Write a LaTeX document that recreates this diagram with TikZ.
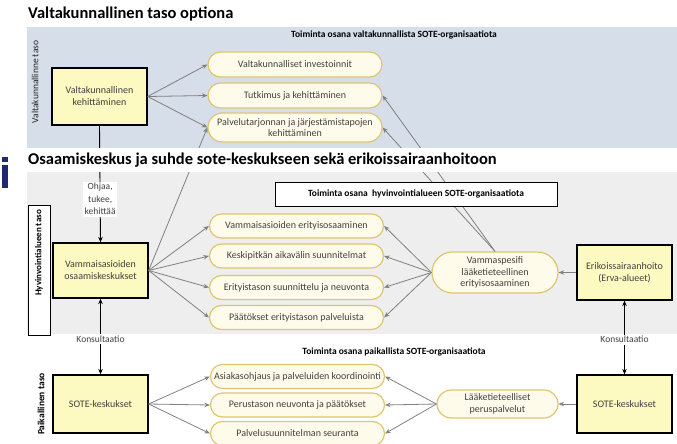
\documentclass[tikz,border=0pt]{standalone}
\usepackage{fontspec}
\setmainfont{Carlito}
\usetikzlibrary{shapes.misc,arrows.meta}

\definecolor{bandblue}{RGB}{214,222,234}
\definecolor{bandgrey}{RGB}{238,238,238}
\definecolor{boxyellow}{RGB}{252,250,192}
\definecolor{pillfill}{RGB}{255,251,234}
\definecolor{pillline}{RGB}{222,198,112}
\definecolor{arrowgrey}{RGB}{128,128,128}
\definecolor{textgrey}{RGB}{64,64,64}
\definecolor{marknavy}{RGB}{31,42,110}

\begin{document}
\begin{tikzpicture}[x=1pt, y=-1pt,
	>={Stealth[length=5.5pt,width=4.5pt]},
	ybox/.style={rectangle, draw=black, line width=1.3pt, fill=boxyellow,
		minimum width=95pt, minimum height=55pt, align=center,
		text=textgrey, font=\fontsize{10}{12}\selectfont},
	pill/.style={rounded rectangle, draw=pillline, line width=1.2pt, fill=pillfill,
		minimum width=178pt, minimum height=24pt, align=center, inner sep=2pt,
		text=textgrey, font=\fontsize{10}{11.5}\selectfont},
	garrow/.style={->, draw=arrowgrey, line width=0.8pt},
	karrow/.style={draw=black, line width=0.9pt},
	klabel/.style={fill=white, inner sep=1.5pt, align=center,
		text=textgrey, font=\fontsize{9.5}{12.5}\selectfont},
	head/.style={font=\bfseries\fontsize{9.5}{11}\selectfont},
	title/.style={anchor=west, inner xsep=0pt, font=\bfseries\fontsize{16.5}{18}\selectfont},
	side/.style={rotate=90, font=\fontsize{9.5}{11}\selectfont}]

	\useasboundingbox (0,0) rectangle (677,444);

	% bands
	\fill[bandblue] (27,27) rectangle (677,148);
	\fill[bandgrey] (27,172) rectangle (677,334);

	\node[title] (t1) at (28,14) {Valtakunnallinen taso optiona};

	% national level
	\node[side, text=black!85] (sv) at (35,82) {Valtakunnallinne taso};
	\node[head] (hv) at (394,35) {Toiminta osana valtakunnallista SOTE-organisaatiota};
	\node[ybox, minimum height=57pt] (vk) at (99.5,96.5) {Valtakunnallinen\\kehittäminen};
	\node[pill, minimum height=25pt] (inv) at (295,64.5) {Valtakunnalliset investoinnit};
	\node[pill, minimum height=25pt] (tut) at (295,95.5) {Tutkimus ja kehittäminen};
	\node[pill, minimum height=29pt] (pal) at (295,127.5) {Palvelutarjonnan ja järjestämistapojen\\kehittäminen};

	% regional level
	\node[draw, fill=white, line width=0.8pt,
		minimum width=22pt, minimum height=130pt] (hbox) at (39,270) {};
	\node[side, font=\bfseries\fontsize{9}{11}\selectfont] (sh) at (39,253) {Hyvinvointialueen taso};
	\node[ybox] (ok) at (100.5,270.5) {Vammaisasioiden\\osaamiskeskukset};
	\node[ybox] (esh) at (624.5,272.5) {Erikoissairaanhoito\\(Erva-alueet)};
	\node[pill] (ve) at (296.5,226) {Vammaisasioiden erityisosaaminen};
	\node[pill] (ks) at (296.5,256) {Keskipitkän aikavälin suunnitelmat};
	\node[pill] (en) at (296.5,287.5) {Erityistason suunnittelu ja neuvonta};
	\node[pill] (pe) at (296.5,317.5) {Päätökset erityistason palveluista};
	\node[pill, minimum width=130pt, minimum height=41pt] (vsp) at (495,272.5)
		{Vammaspesifi\\lääketieteellinen\\erityisosaaminen};

	% local level
	\node[side, font=\bfseries\fontsize{9.5}{11}\selectfont] (spk) at (41,404) {Paikallinen taso};
	\node[head] (hp) at (394,352) {Toiminta osana paikallista SOTE-organisaatiota};
	\node[ybox, minimum height=58pt] (sk1) at (100.5,404) {SOTE-keskukset};
	\node[ybox, minimum height=58pt] (sk2) at (624.5,404) {SOTE-keskukset};
	\node[pill] (ak) at (297.5,376.5) {Asiakasohjaus ja palveluiden koordinointi};
	\node[pill] (pn) at (297.5,405) {Perustason neuvonta ja päätökset};
	\node[pill] (ps) at (297.5,433.5) {Palvelusuunnitelman seuranta};
	\node[pill, minimum width=125pt, minimum height=28pt] (lp) at (497.5,404)
		{Lääketieteelliset\\peruspalvelut};

	% grey arrows
	\foreach \n in {inv,tut,pal}
		\draw[garrow] (vk.east) -- (\n.west);
	\foreach \n in {ve,ks,en,pe,pal}
		\draw[garrow] (ok.east) -- (\n.west);
	\foreach \n in {ve,ks,en,pe}
		\draw[garrow] (vsp.west) -- (\n.east);
	\draw[garrow] (vsp.north) -- (tut.east);
	\draw[garrow] (vsp.north) -- (pal.east);
	\draw[garrow] (esh.west) -- (vsp.east);
	\foreach \n in {ak,pn,ps}
		\draw[garrow] (sk1.east) -- (\n.west);
	\foreach \n in {ak,pn,ps}
		\draw[garrow] (lp.west) -- (\n.east);
	\draw[garrow] (sk2.west) -- (lp.east);

	% black arrows
	\draw[karrow, ->] (vk.south) -- node[klabel, pos=0.63] (oh) {Ohjaa,\\tukee,\\kehittää} (ok.north);
	\draw[karrow, <->] (ok.south) -- node[klabel, pos=0.53] (k1) {Konsultaatio} (sk1.north);
	\draw[karrow, <->] (esh.south) -- node[klabel, pos=0.53] (k2) {Konsultaatio} (sk2.north);

	% title strip and header box on top of the lines
	\node[title, fill=white, minimum height=24pt] (t2) at (28,160)
		{Osaamiskeskus ja suhde sote-keskukseen sekä erikoissairaanhoitoon};
	\node[head, draw=black, fill=white, line width=1pt,
		minimum width=282pt, minimum height=24pt] (hh) at (416,194)
		{Toiminta osana~ hyvinvointialueen SOTE-organisaatiota};

	% blue mark at the left edge
	\fill[marknavy] (2,157) rectangle (8,162);
	\fill[marknavy] (2,165) rectangle (8,188);
\end{tikzpicture}
\end{document}
